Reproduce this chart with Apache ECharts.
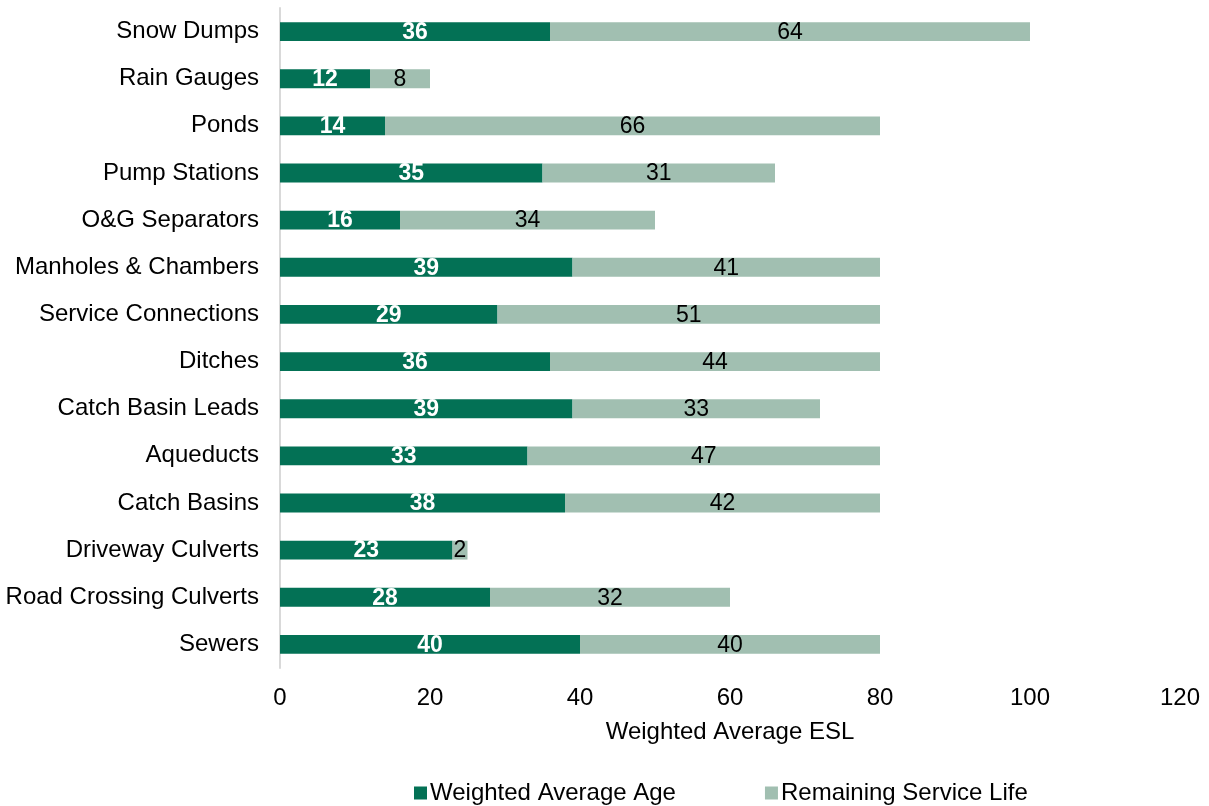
<!DOCTYPE html>
<html>
<head>
<meta charset="utf-8">
<script src="https://cdn.jsdelivr.net/npm/echarts@6/dist/echarts.min.js"></script>
<style>
html,body{margin:0;padding:0;background:#fff;}
#chart{width:1209px;height:806px;}
</style>
</head>
<body>
<div id="chart"></div>
<script>
const categories = ["Snow Dumps","Rain Gauges","Ponds","Pump Stations","O&G Separators","Manholes & Chambers","Service Connections","Ditches","Catch Basin Leads","Aqueducts","Catch Basins","Driveway Culverts","Road Crossing Culverts","Sewers"];
const weightedAverageAge = [36,12,14,35,16,39,29,36,39,33,38,23,28,40];
const remainingServiceLife = [64,8,66,31,34,41,51,44,33,47,42,2,32,40];
const xTicks = [0,20,40,60,80,100,120];
const seriesNames = ["Weighted Average Age","Remaining Service Life"];
const axisTitle = "Weighted Average ESL";

const FONT = "'Liberation Sans', Arial, sans-serif";
const chart = echarts.init(document.getElementById('chart'), null, {renderer:'canvas'});
chart.setOption({
  animation:false,
  backgroundColor:'#ffffff',
  textStyle:{fontFamily:FONT},
  grid:{left:280,right:29,top:8,bottom:138,containLabel:false},
  legend:{
    top:776,left:409,
    icon:'rect',itemWidth:13,itemHeight:13,itemGap:89,
    textStyle:{fontFamily:FONT,fontSize:24,color:'#000',padding:[0,0,0,-2]},
    data:seriesNames
  },
  xAxis:{
    type:'value',min:xTicks[0],max:xTicks[xTicks.length-1],interval:20,
    name:axisTitle,nameLocation:'middle',nameGap:52,
    nameTextStyle:{fontFamily:FONT,fontSize:24,color:'#000',verticalAlign:'top'},
    axisLine:{show:false},axisTick:{show:false},splitLine:{show:false},
    axisLabel:{fontFamily:FONT,fontSize:24,color:'#000',margin:18}
  },
  yAxis:{
    type:'category',data:categories,inverse:true,
    axisLine:{show:true,lineStyle:{color:'#d9d9d9',width:2}},
    axisTick:{show:false},
    axisLabel:{fontFamily:FONT,fontSize:24,color:'#000',margin:21}
  },
  series:[
    {
      name:seriesNames[0],type:'bar',stack:'t',data:weightedAverageAge,barWidth:'40%',
      itemStyle:{color:'#037155'},
      label:{show:true,position:'inside',offset:[0,1],color:'#fff',fontWeight:'bold',fontSize:23,fontFamily:FONT}
    },
    {
      name:seriesNames[1],type:'bar',stack:'t',data:remainingServiceLife,barWidth:'40%',
      itemStyle:{color:'#a1bfb1'},
      label:{show:true,position:'inside',offset:[0,1],color:'#000',fontSize:23,fontFamily:FONT}
    }
  ]
});
</script>
</body>
</html>
